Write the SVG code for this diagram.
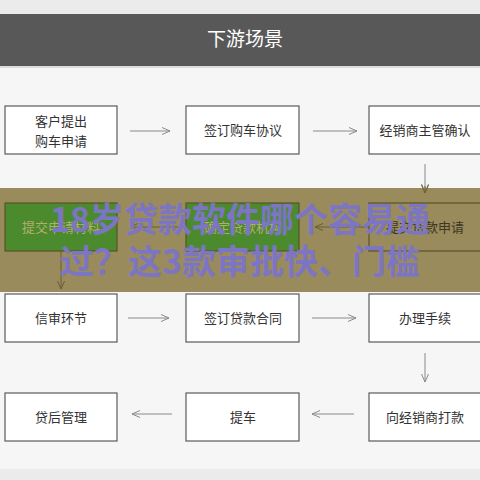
<svg xmlns="http://www.w3.org/2000/svg" width="480" height="480" viewBox="0 0 480 480">
<defs>
<marker id="ah" markerWidth="10" markerHeight="8" refX="9" refY="4" orient="auto" markerUnits="userSpaceOnUse">
<path d="M1,0.5 L9,4 L1,7.5" fill="none" stroke="#8a8a8a" stroke-width="1"/>
</marker>
<marker id="ahd" markerWidth="10" markerHeight="8" refX="9" refY="4" orient="auto" markerUnits="userSpaceOnUse">
<path d="M1,0.5 L9,4 L1,7.5" fill="none" stroke="#6a5e38" stroke-width="1"/>
</marker>
<style>
.box{fill:#ffffff;stroke:#5a5a5a;stroke-width:1.2}
.gbox{fill:#4b8a2d;stroke:#5b5325;stroke-width:1.2}
.kbox{fill:none;stroke:#5b5325;stroke-width:1.2}
.t{font-family:"Noto Sans CJK SC","Noto Sans",sans-serif;font-size:13px;fill:#333333;text-anchor:middle}
.gt{font-family:"Noto Sans CJK SC","Noto Sans",sans-serif;font-size:13px;fill:#b3ad72;text-anchor:middle}
.kt{font-family:"Noto Sans CJK SC","Noto Sans",sans-serif;font-size:13px;fill:#3d3620;text-anchor:middle}
.c{stroke:#8a8a8a;stroke-width:1;fill:none;marker-end:url(#ah)}
.cd{stroke:#6a5e38;stroke-width:1;fill:none;marker-end:url(#ahd)}
.wm{font-family:"Noto Sans CJK SC","Noto Sans",sans-serif;font-size:34px;font-weight:bold;fill:#7c75c3;text-anchor:middle}
</style>
</defs>
<rect x="0" y="0" width="480" height="480" fill="#ebebeb"/>
<rect x="0" y="14" width="480" height="52" fill="#585858"/>
<rect x="0" y="66" width="480" height="2" fill="#dcdcdc"/>
<rect x="0" y="68" width="480" height="401" fill="#f6f6f6"/>
<text x="245" y="46" font-family="'Noto Sans CJK SC','Noto Sans',sans-serif" font-size="19" fill="#ffffff" text-anchor="middle">下游场景</text>

<g id="connectors">
<line class="c" x1="130" y1="131" x2="170" y2="131"/>
<line class="c" x1="313" y1="131" x2="357" y2="131"/>
<line class="c" x1="425" y1="164" x2="425" y2="192"/>
<line class="c" x1="128" y1="318" x2="169" y2="318"/>
<line class="c" x1="312" y1="318" x2="356" y2="318"/>
<line class="c" x1="425" y1="353" x2="425" y2="382"/>
<line class="c" x1="172" y1="414" x2="132" y2="414"/>
<line class="c" x1="354" y1="414" x2="312" y2="414"/>
</g>

<g id="n1"><rect class="box" x="5" y="106" width="112" height="48"/><text class="t" x="61" y="126">客户提出</text><text class="t" x="61" y="146">购车申请</text></g>
<g id="n2"><rect class="box" x="186" y="106" width="113" height="48"/><text class="t" x="243" y="135">签订购车协议</text></g>
<g id="n3"><rect class="box" x="369" y="106" width="113" height="48"/><text class="t" x="425" y="135">经销商主管确认</text></g>

<rect x="0" y="188" width="480" height="104" fill="#9a8b5d"/>
<g id="band-connectors">
<line class="cd" x1="425" y1="186" x2="425" y2="193"/>
<line class="cd" x1="369" y1="227" x2="315" y2="227"/>
<line class="cd" x1="186" y1="227" x2="130" y2="227"/>
<line class="cd" x1="61" y1="251" x2="61" y2="289"/>
</g>
<g id="n4"><rect class="gbox" x="5" y="203" width="112" height="48"/><text class="gt" x="61" y="232">提交申请材料</text></g>
<g id="n5"><rect class="gbox" x="186" y="203" width="113" height="48"/><text class="gt" x="243" y="232">确定贷款机构</text></g>
<g id="n6"><rect class="kbox" x="369" y="203" width="113" height="48"/><text class="kt" x="425" y="232">提交贷款申请</text></g>

<g id="n7"><rect class="box" x="5" y="294" width="112" height="48"/><text class="t" x="61" y="323">信审环节</text></g>
<g id="n8"><rect class="box" x="186" y="294" width="113" height="48"/><text class="t" x="243" y="323">签订贷款合同</text></g>
<g id="n9"><rect class="box" x="369" y="294" width="113" height="48"/><text class="t" x="425" y="323">办理手续</text></g>
<g id="n10"><rect class="box" x="5" y="393" width="112" height="48"/><text class="t" x="61" y="422">贷后管理</text></g>
<g id="n11"><rect class="box" x="186" y="393" width="113" height="48"/><text class="t" x="243" y="422">提车</text></g>
<g id="n12"><rect class="box" x="369" y="393" width="113" height="48"/><text class="t" x="425" y="422">向经销商打款</text></g>

<text class="wm" x="240" y="232">18岁贷款软件哪个容易通</text>
<text class="wm" x="240" y="274">过？这3款审批快、门槛</text>
</svg>
